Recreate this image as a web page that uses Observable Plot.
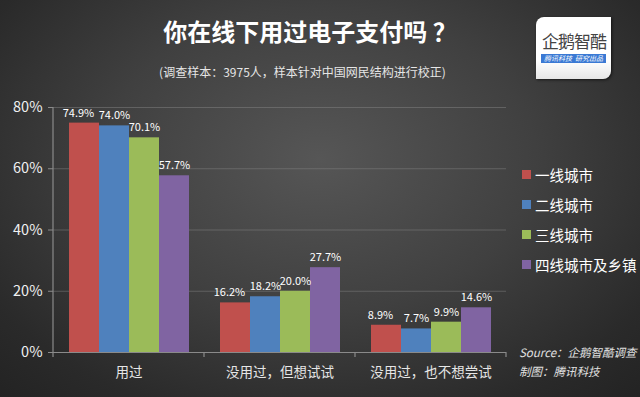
<!DOCTYPE html>
<html>
<head>
<meta charset="utf-8">
<script src="https://cdn.jsdelivr.net/npm/d3@7"></script>
<script src="https://cdn.jsdelivr.net/npm/@observablehq/plot@0.6"></script>
<style>
html, body { margin:0; padding:0; }
body {
  width:640px; height:397px; overflow:hidden; position:relative;
  font-family:"Noto Sans CJK SC","Noto Sans",sans-serif;
  background: radial-gradient(ellipse 75% 85% at 50% 40%, #565656 0%, #404040 45%, #2a2a2a 80%, #222 100%);
}
#title { position:absolute; left:0; width:620px; top:13px; text-align:center; color:#fff; font-weight:bold; font-size:24px; letter-spacing:0px; }
#subtitle { position:absolute; left:0; width:605px; top:63px; text-align:center; color:#e6e6e6; font-size:12px; }
#logo { position:absolute; left:536px; top:17px; width:75px; height:62px; background:linear-gradient(#fff 70%, #e6e6e6); border-radius:8px 0 8px 0; box-shadow:1px 1px 3px rgba(0,0,0,0.6); }
#logo .name { position:absolute; left:3px; top:11px; width:70px; text-align:center; font-size:17px; color:#444; letter-spacing:-1px; }
#logo .bar { position:absolute; left:5px; top:37px; width:65px; height:9px; background:#3a79d4; color:#fff; font-size:7px; line-height:9px; text-align:center; font-style:italic; white-space:nowrap; }
#chart { position:absolute; left:0; top:90px; }
#legend { position:absolute; left:522px; top:159px; }
.li { height:30px; display:flex; align-items:center; color:#fff; font-size:14.5px; }
.sw { width:9px; height:9px; margin-right:4px; }
#source { position:absolute; left:519px; top:343px; color:#e0e0e0; font-size:11.5px; font-style:italic; line-height:19px; }
</style>
</head>
<body>
<div id="title">你在线下用过电子支付吗 ？</div>
<div id="subtitle">(调查样本：3975人，样本针对中国网民结构进行校正)</div>
<div id="logo"><div class="name">企鹅智酷</div><div class="bar">腾讯科技&nbsp;&nbsp;研究出品</div></div>
<div id="chart"></div>
<div id="legend"></div>
<div id="source">Source：企鹅智酷调查<br>制图：腾讯科技</div>
<script>
const categories = ["用过", "没用过，但想试试", "没用过，也不想尝试"];
const series = ["一线城市", "二线城市", "三线城市", "四线城市及乡镇"];
const tier1 = [74.9, 16.2, 8.9];
const tier2 = [74.0, 18.2, 7.7];
const tier3 = [70.1, 20.0, 9.9];
const tier4 = [57.7, 27.7, 14.6];
const yTicks = [0, 20, 40, 60, 80];
const colors = ["#c0504d", "#4f81bd", "#9bbb59", "#8064a2"];

const seriesValues = [tier1, tier2, tier3, tier4];
const data = [];
categories.forEach((c, i) => series.forEach((s, j) => data.push({cat: c, s, v: seriesValues[j][i]})));
const firstTier = data.filter(d => d.s === series[0]);
const otherTiers = data.filter(d => d.s !== series[0]);

const W = 520, H = 300, mL = 52, mR = 13, mT = 17, mB = 38;
const fmt = d => d.v.toFixed(1) + "%";
const chart = Plot.plot({
  width: W, height: H,
  marginLeft: mL, marginRight: mR, marginTop: mT, marginBottom: mB,
  style: {background: "transparent", color: "#eee", fontFamily: "'Noto Sans CJK SC','Noto Sans',sans-serif"},
  fx: {domain: categories, padding: 0, label: null},
  x: {domain: series, paddingInner: 0, paddingOuter: 0.5, axis: null},
  y: {domain: [0, 80], label: null},
  color: {domain: series, range: colors},
  marks: [
    Plot.gridY(yTicks, {stroke: "#8a8a8a", strokeOpacity: 0.45}),
    Plot.barY(data, {fx: "cat", x: "s", y: "v", fill: "s"}),
    Plot.text(firstTier, {fx: "cat", x: "s", y: "v", text: fmt, dy: -10, dx: -6, fill: "#fff", fontSize: 11}),
    Plot.text(otherTiers, {fx: "cat", x: "s", y: "v", text: fmt, dy: -10, dx: 0, fill: "#fff", fontSize: 11}),
    Plot.ruleY([0], {stroke: "#8a8a8a", strokeWidth: 1.2}),
    Plot.axisY({ticks: yTicks, tickFormat: d => d + "%", tickSize: 5, tickPadding: 6, fontSize: 14.5, stroke: "#8a8a8a", fill: "#f0f0f0", label: null}),
    Plot.axisFx({anchor: "bottom", tickSize: 0, tickPadding: 15, fontSize: 13.5, fill: "#e6e6e6", label: null})
  ]
});
document.getElementById("chart").appendChild(chart);

// y-axis line and category boundary ticks from the scales
const fx = chart.scale("fx"), y = chart.scale("y");
const svg = d3.select(chart);
const y0 = y.apply(0), yTop = y.apply(80);
const g = svg.append("g").attr("stroke", "#8a8a8a").attr("stroke-width", 1.2);
g.append("line").attr("x1", fx.apply(categories[0])).attr("x2", fx.apply(categories[0])).attr("y1", y0).attr("y2", yTop);
const bounds = categories.map(c => fx.apply(c)).concat([fx.apply(categories[categories.length - 1]) + fx.bandwidth]);
bounds.forEach(b => g.append("line").attr("x1", b).attr("x2", b).attr("y1", y0).attr("y2", y0 + 5));

const legend = document.getElementById("legend");
series.forEach((s, i) => {
  const row = document.createElement("div");
  row.className = "li";
  row.innerHTML = `<div class="sw" style="background:${colors[i]}"></div><span>${s}</span>`;
  legend.appendChild(row);
});
</script>
</body>
</html>
